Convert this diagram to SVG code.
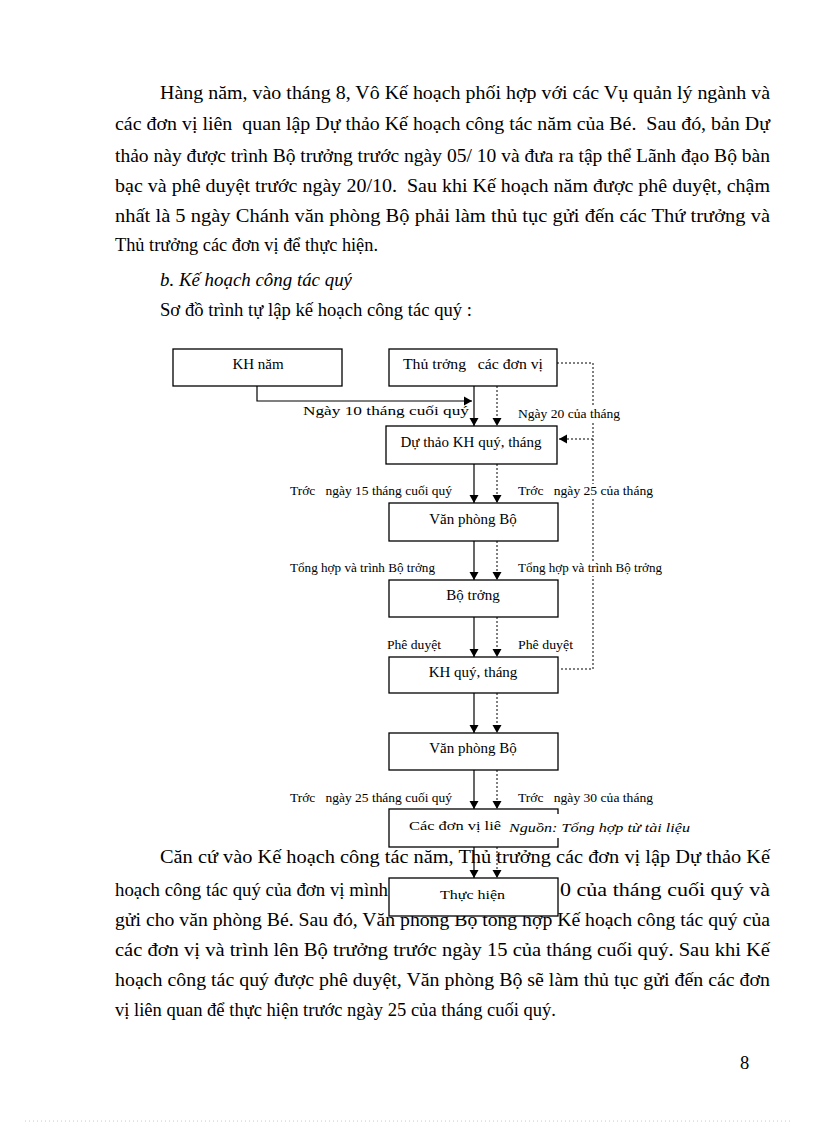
<svg xmlns="http://www.w3.org/2000/svg" width="816" height="1123" viewBox="0 0 816 1123">
<style>
.body{font-family:"Liberation Serif","Times New Roman",serif;font-size:18.5px;fill:#000}
.lbl{font-family:"Liberation Serif","Times New Roman",serif;font-size:12px;fill:#000}
.bt{font-family:"Liberation Serif","Times New Roman",serif;font-size:15px;fill:#000;text-anchor:middle}
.box{fill:#fff;stroke:#000;stroke-width:1.3}
.sol{fill:none;stroke:#000;stroke-width:1.2}
.dot{fill:none;stroke:#000;stroke-width:1;stroke-dasharray:2 2}
.bg{fill:#fff}
</style>
<defs>
<marker id="ah" markerUnits="userSpaceOnUse" markerWidth="9" markerHeight="10" refX="8" refY="4.5" orient="auto" viewBox="0 0 9 9">
<path d="M0,0 L8,4.5 L0,9 z" fill="#000"/>
</marker>
</defs>
<rect width="816" height="1123" fill="#fff"/>

<g id="text-top">
<text class="body" x="160" y="99" textLength="610" lengthAdjust="spacingAndGlyphs">Hàng năm, vào tháng 8, Vô Kế hoạch phối hợp với các Vụ quản lý ngành và</text>
<text class="body" x="115" y="130" textLength="655" lengthAdjust="spacingAndGlyphs" xml:space="preserve">các đơn vị liên  quan lập Dự thảo Kế hoạch công tác năm của Bé.  Sau đó, bản Dự</text>
<text class="body" x="115" y="162" textLength="655" lengthAdjust="spacingAndGlyphs">thảo này được trình Bộ trưởng trước ngày 05/ 10 và đưa ra tập thể Lãnh đạo Bộ bàn</text>
<text class="body" x="115" y="192" textLength="655" lengthAdjust="spacingAndGlyphs" xml:space="preserve">bạc và phê duyệt trước ngày 20/10.  Sau khi Kế hoạch năm được phê duyệt, chậm</text>
<text class="body" x="115" y="222" textLength="655" lengthAdjust="spacingAndGlyphs">nhất là 5 ngày Chánh văn phòng Bộ phải làm thủ tục gửi đến các Thứ trưởng và</text>
<text class="body" x="115" y="251" textLength="263" lengthAdjust="spacingAndGlyphs">Thủ trưởng các đơn vị để thực hiện.</text>
<text class="body" x="160" y="286" font-style="italic" textLength="192" lengthAdjust="spacingAndGlyphs">b. Kế hoạch công tác quý</text>
<text class="body" x="160" y="316" textLength="312" lengthAdjust="spacingAndGlyphs">Sơ đồ trình tự lập kế hoạch công tác quý :</text>
</g>

<g id="text-bottom">
<text class="body" x="160" y="863" textLength="610" lengthAdjust="spacingAndGlyphs">Căn cứ vào Kế hoạch công tác năm, Thủ trưởng các đơn vị lập Dự thảo Kế</text>
<text class="body" x="115" y="896" textLength="273" lengthAdjust="spacingAndGlyphs">hoạch công tác quý của đơn vị mình</text>
<text class="body" x="560" y="896" textLength="210" lengthAdjust="spacingAndGlyphs">0 của tháng cuối quý và</text>
<text class="body" x="115" y="926" textLength="655" lengthAdjust="spacingAndGlyphs">gửi cho văn phòng Bé. Sau đó, Văn phòng Bộ tổng hợp Kế hoạch công tác quý của</text>
<text class="body" x="115" y="956" textLength="655" lengthAdjust="spacingAndGlyphs">các đơn vị và trình lên Bộ trưởng trước ngày 15 của tháng cuối quý. Sau khi Kế</text>
<text class="body" x="115" y="986" textLength="655" lengthAdjust="spacingAndGlyphs">hoạch công tác quý được phê duyệt, Văn phòng Bộ sẽ làm thủ tục gửi đến các đơn</text>
<text class="body" x="115" y="1016" textLength="441" lengthAdjust="spacingAndGlyphs">vị liên quan để thực hiện trước ngày 25 của tháng cuối quý.</text>
<text class="body" x="740" y="1069" font-size="15">8</text>
<line x1="25" y1="1121" x2="790" y2="1121" stroke="#b8d8b8" stroke-width="1" stroke-dasharray="1 3"/>
</g>

<g id="connectors">
<path class="sol" d="M257,386 V401 H472" marker-end="url(#ah)"/>
<path class="dot" d="M557,363 H593 V669 H560"/>
<path class="dot" d="M593,439 H559" marker-end="url(#ah)"/>
<path class="sol" d="M474,386 V426" marker-end="url(#ah)"/>
<path class="dot" d="M497,386 V426" marker-end="url(#ah)"/>
<path class="sol" d="M474,464 V503" marker-end="url(#ah)"/>
<path class="dot" d="M497,464 V503" marker-end="url(#ah)"/>
<path class="sol" d="M474,541 V580" marker-end="url(#ah)"/>
<path class="dot" d="M497,541 V580" marker-end="url(#ah)"/>
<path class="sol" d="M474,617 V657" marker-end="url(#ah)"/>
<path class="dot" d="M497,617 V657" marker-end="url(#ah)"/>
<path class="sol" d="M474,693 V733" marker-end="url(#ah)"/>
<path class="dot" d="M497,693 V733" marker-end="url(#ah)"/>
<path class="sol" d="M474,770 V809" marker-end="url(#ah)"/>
<path class="dot" d="M497,770 V809" marker-end="url(#ah)"/>
<path class="sol" d="M474,847 V878" marker-end="url(#ah)"/>
<path class="dot" d="M497,847 V878" marker-end="url(#ah)"/>
<rect class="bg" x="516" y="406" width="106" height="15"/>
<rect class="bg" x="516" y="484" width="139" height="15"/>
<rect class="bg" x="516" y="561" width="148" height="15"/>
<text class="lbl" x="303" y="415" textLength="166" lengthAdjust="spacingAndGlyphs">Ngày 10 tháng cuối quý</text>
<text class="lbl" x="518" y="418" textLength="102" lengthAdjust="spacingAndGlyphs">Ngày 20 của tháng</text>
<text class="lbl" x="290" y="495" textLength="162" lengthAdjust="spacingAndGlyphs" xml:space="preserve">Trớc   ngày 15 tháng cuối quý</text>
<text class="lbl" x="518" y="495" textLength="135" lengthAdjust="spacingAndGlyphs" xml:space="preserve">Trớc   ngày 25 của tháng</text>
<text class="lbl" x="290" y="572" textLength="145" lengthAdjust="spacingAndGlyphs">Tổng hợp và trình Bộ trởng</text>
<text class="lbl" x="518" y="572" textLength="144" lengthAdjust="spacingAndGlyphs">Tổng hợp và trình Bộ trởng</text>
<text class="lbl" x="387" y="649" textLength="54" lengthAdjust="spacingAndGlyphs">Phê duyệt</text>
<text class="lbl" x="518" y="649" textLength="55" lengthAdjust="spacingAndGlyphs">Phê duyệt</text>
<text class="lbl" x="290" y="802" textLength="162" lengthAdjust="spacingAndGlyphs" xml:space="preserve">Trớc   ngày 25 tháng cuối quý</text>
<text class="lbl" x="518" y="802" textLength="135" lengthAdjust="spacingAndGlyphs" xml:space="preserve">Trớc   ngày 30 của tháng</text>
</g>

<g id="n-khnam"><rect class="box" x="173" y="349" width="169" height="37"/><text class="bt" x="258" y="369">KH năm</text></g>
<g id="n-thutruong"><rect class="box" x="389" y="349" width="168" height="37"/><text class="bt" x="473" y="369" textLength="140" lengthAdjust="spacingAndGlyphs" xml:space="preserve">Thủ trởng   các đơn vị</text></g>
<g id="n-duthao"><rect class="box" x="386" y="426" width="171" height="38"/><text class="bt" x="471" y="447">Dự thảo KH quý, tháng</text></g>
<g id="n-vanphong1"><rect class="box" x="389" y="503" width="169" height="38"/><text class="bt" x="473" y="524">Văn phòng Bộ</text></g>
<g id="n-botruong"><rect class="box" x="389" y="580" width="169" height="37"/><text class="bt" x="473" y="600">Bộ trởng</text></g>
<g id="n-khquy"><rect class="box" x="389" y="657" width="169" height="36"/><text class="bt" x="473" y="677">KH quý, tháng</text></g>
<g id="n-vanphong2"><rect class="box" x="389" y="733" width="169" height="37"/><text class="bt" x="473" y="753">Văn phòng Bộ</text></g>
<g id="n-cacdonvi"><rect class="box" x="389" y="809" width="169" height="38"/><text class="lbl" x="409" y="830" font-size="13.5" textLength="92" lengthAdjust="spacingAndGlyphs">Các đơn vị liê</text></g>
<g id="source-note"><rect class="bg" x="505" y="814" width="195" height="24"/><text class="lbl" x="509" y="832" font-size="13.5" font-style="italic" textLength="181" lengthAdjust="spacingAndGlyphs">Nguồn: Tổng hợp từ tài liệu</text></g>
<g id="n-thuchien"><rect class="box" x="389" y="878" width="169" height="38"/><text class="lbl" x="440" y="899" font-size="14" textLength="65" lengthAdjust="spacingAndGlyphs">Thực hiện</text></g>
</svg>
